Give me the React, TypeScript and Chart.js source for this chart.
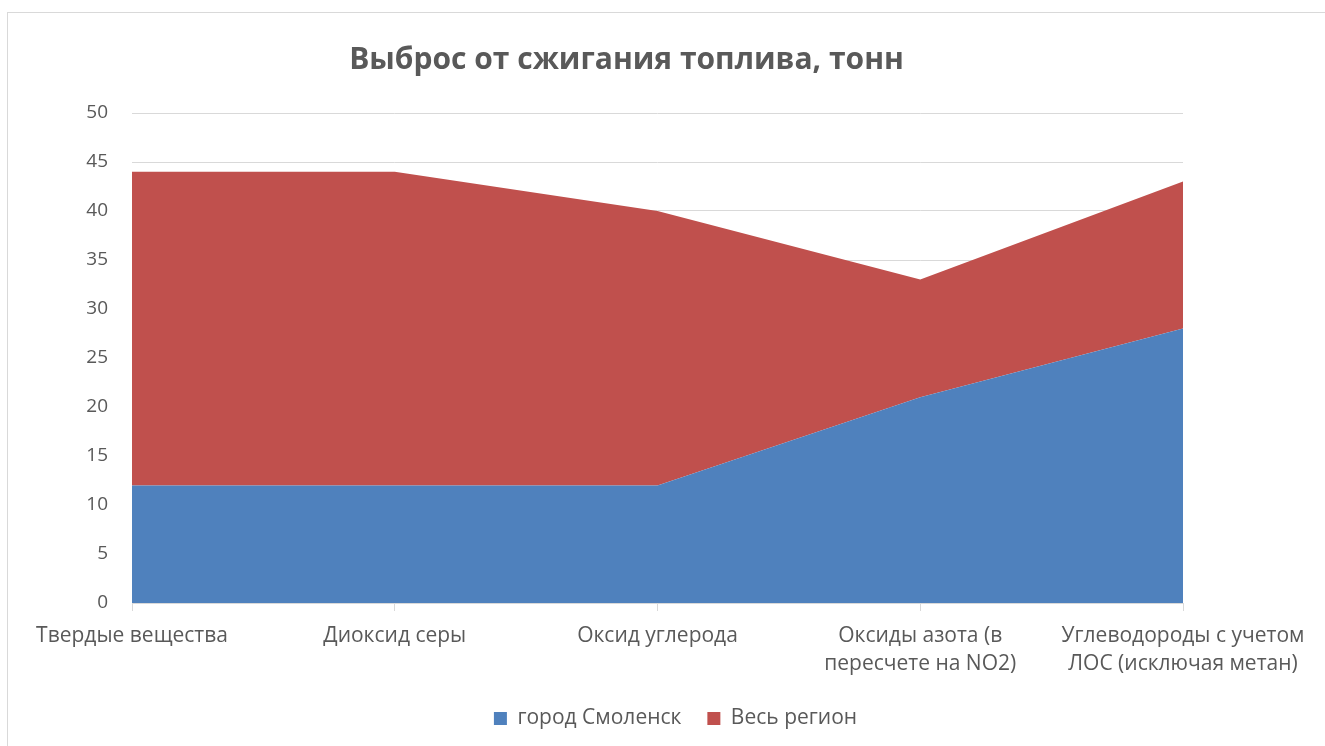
import React, { useEffect, useRef } from "react";
import { Chart, registerables } from "chart.js";

Chart.register(...registerables);

const categories: (string | string[])[] = [
  "Твердые вещества",
  "Диоксид серы",
  "Оксид углерода",
  ["Оксиды азота (в", "пересчете на NO2)"],
  ["Углеводороды с учетом", "ЛОС (исключая метан)"],
];
const citySeries = [12, 12, 12, 21, 28];
const regionSeries = [32, 32, 28, 12, 15];
const yTicksMin = 0;
const yTicksMax = 50;
const yTicksStep = 5;
const titleText = "Выброс от сжигания топлива, тонн";
const seriesNames = ["город Смоленск", "Весь регион"];

const FONT = "'Open Sans', sans-serif";
const TEXT = "#595959";
const GRID = "#d9d9d9";

const shiftBlocks = {
  id: "shiftBlocks",
  afterLayout(chart: any) {
    const t = chart.titleBlock;
    if (t) {
      t.left += 31;
      t.right += 31;
    }
    const l = chart.legend;
    if (l) {
      l.left += 80;
      l.right += 80;
    }
  },
};

export default function App() {
  const ref = useRef<HTMLCanvasElement | null>(null);
  useEffect(() => {
    if (!ref.current) return;
    const chart = new Chart(ref.current, {
      type: "line",
      data: {
        labels: categories,
        datasets: [
          {
            label: seriesNames[0],
            data: citySeries,
            backgroundColor: "#4f81bd",
            borderColor: "#4f81bd",
            borderWidth: 0,
            pointRadius: 0,
            fill: "origin",
            tension: 0,
          },
          {
            label: seriesNames[1],
            data: regionSeries,
            backgroundColor: "#c0504d",
            borderColor: "#c0504d",
            borderWidth: 0,
            pointRadius: 0,
            fill: "-1",
            tension: 0,
          },
        ],
      },
      options: {
        responsive: false,
        animation: false,
        devicePixelRatio: 1,
        layout: { padding: { left: 8, right: 142, top: 0, bottom: 7 } },
        plugins: {
          title: {
            display: true,
            text: titleText,
            color: TEXT,
            font: { family: FONT, size: 30, weight: "bold", lineHeight: 1.2 },
            padding: { top: 42, bottom: 35 },
          },
          legend: {
            position: "bottom",
            labels: {
              color: TEXT,
              font: { family: FONT, size: 21 },
              boxWidth: 13,
              boxHeight: 13,
              padding: 26,
            },
          },
          tooltip: { enabled: false },
        },
        scales: {
          x: {
            offset: false,
            grid: {
              drawOnChartArea: false,
              drawTicks: true,
              tickLength: 8,
              color: GRID,
            },
            border: { display: true, color: GRID },
            ticks: {
              color: TEXT,
              font: { family: FONT, size: 21, lineHeight: 1.33 },
              padding: 11,
              maxRotation: 0,
              autoSkip: false,
            },
            afterFit: (s: any) => {
              s.height = 79;
            },
          },
          y: {
            stacked: true,
            min: yTicksMin,
            max: yTicksMax,
            grid: { color: GRID, drawTicks: false },
            border: { display: false },
            ticks: {
              stepSize: yTicksStep,
              color: TEXT,
              font: { family: FONT, size: 19 },
              padding: 24,
            },
            afterFit: (s: any) => {
              s.width = 124;
            },
          },
        },
      },
      plugins: [shiftBlocks],
    });
    return () => chart.destroy();
  }, []);
  return (
    <div
      style={{
        position: "fixed",
        left: 0,
        top: 0,
        width: 1325,
        height: 746,
        background: "#fff",
        overflow: "hidden",
      }}
    >
      <div
        style={{
          position: "absolute",
          left: 7,
          top: 12,
          width: 1340,
          height: 800,
          border: `1px solid ${GRID}`,
        }}
      />
      <canvas
        ref={ref}
        width={1325}
        height={746}
        style={{ position: "absolute", left: 0, top: 0 }}
      />
    </div>
  );
}
